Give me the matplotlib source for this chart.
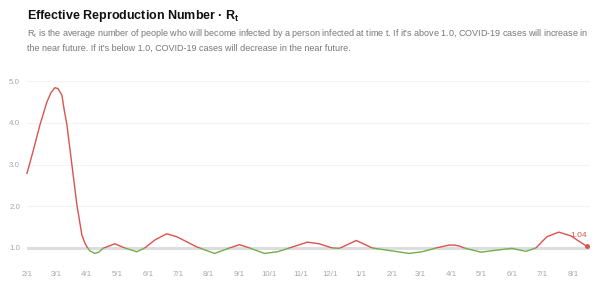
import numpy as np
import pandas as pd
import matplotlib
matplotlib.use('Agg')
import matplotlib.pyplot as plt
from matplotlib.patches import Rectangle
import matplotlib.dates as mdates

# Rt values (days since 2020-02-01, value)
day_offsets = [0, 6, 13, 20, 24, 28, 31, 35, 37, 40, 45, 50, 53, 55, 58, 60, 63, 68, 72,
               76, 88, 98, 110, 118, 128, 140, 150, 160, 168, 173, 188, 203, 213, 223,
               238, 251, 263, 281, 293, 298, 306, 313, 330, 346, 363, 383, 396, 410, 423,
               428, 433, 438, 455, 471, 486, 500, 510, 521, 533, 545, 561]
rt_values = [2.79, 3.31, 3.95, 4.50, 4.72, 4.84, 4.82, 4.66, 4.35, 3.95, 2.99, 2.03, 1.60,
             1.31, 1.12, 1.03, 0.93, 0.87, 0.90, 0.99, 1.10, 1.00, 0.91, 1.00, 1.19, 1.34,
             1.27, 1.15, 1.05, 1.00, 0.87, 1.00, 1.08, 1.00, 0.87, 0.91, 1.00, 1.14, 1.10,
             1.06, 1.00, 0.99, 1.18, 1.00, 0.94, 0.87, 0.91, 1.00, 1.07, 1.07, 1.05, 1.00,
             0.90, 0.95, 0.99, 0.92, 1.00, 1.27, 1.38, 1.29, 1.04]
start = pd.Timestamp('2020-02-01')
dates = [start + pd.Timedelta(days=d) for d in day_offsets]

tick_dates = pd.date_range('2020-02-01', '2021-08-01', freq='MS')
tick_labels = [f"{d.month}/{d.day}" for d in tick_dates]
y_ticks = [1.0, 2.0, 3.0, 4.0, 5.0]

RED = '#d9534f'
GREEN = '#6fae4a'

plt.rcParams['font.family'] = ['Liberation Sans', 'DejaVu Sans']
plt.rcParams['mathtext.fontset'] = 'custom'
plt.rcParams['mathtext.rm'] = 'Liberation Sans'
plt.rcParams['mathtext.bf'] = 'Liberation Sans:bold'

fig = plt.figure(figsize=(6, 2.91), dpi=100)
ax = fig.add_axes([0.045, 0.0976, 0.938, 0.624])

xnum = mdates.date2num(dates)
x0 = mdates.date2num(start)
x1 = x0 + 564
ax.set_xlim(x0, x1)
ax.set_ylim(0.65, 5.0)

# gridlines
for y in y_ticks[1:]:
    ax.axhline(y, color='#f3f3f3', lw=0.8, zorder=0)
ax.axhline(1.0, color='#dddddd', lw=2.2, zorder=1)

# line, red above 1.0, green below
red_line, = ax.plot(xnum, rt_values, color=RED, lw=1.0, zorder=3)
green_line, = ax.plot(xnum, rt_values, color=GREEN, lw=1.0, zorder=3)
red_line.set_clip_path(Rectangle((x0 - 10, 1.0), 700, 10, transform=ax.transData))
green_line.set_clip_path(Rectangle((x0 - 10, -5), 700, 6.0, transform=ax.transData))

ax.plot(xnum[-1], rt_values[-1], 'o', color=RED, ms=2.5, zorder=4, clip_on=False)
ax.annotate(f"{rt_values[-1]:.2f}", (xnum[-1], rt_values[-1]), xytext=(-6, 5),
            textcoords='offset points', ha='center', va='bottom', color=RED, fontsize=6)

ax.set_xticks(mdates.date2num(tick_dates))
ax.set_xticklabels(tick_labels)
ax.set_yticks(y_ticks)
ax.set_yticklabels([f"{y:.1f}" for y in y_ticks])
ax.tick_params(length=0, labelsize=5.7, labelcolor='#a8a8a8')
ax.tick_params(axis='x', pad=6)
ax.tick_params(axis='y', pad=5)
for s in ax.spines.values():
    s.set_visible(False)

fig.text(0.045, 0.945, r"Effective Reproduction Number · R$_\mathbf{t}$", fontsize=9,
         fontweight='bold', color='#111111', va='center')
fig.text(0.045, 0.885, r"R$_\mathregular{t}$ is the average number of people who will become infected by a person infected at time t. If it's above 1.0, COVID-19 cases will increase in",
         fontsize=6.45, color='#777777', va='center')
fig.text(0.045, 0.833, "the near future. If it's below 1.0, COVID-19 cases will decrease in the near future.",
         fontsize=6.45, color='#777777', va='center')

fig.savefig('out.png', dpi=100)
